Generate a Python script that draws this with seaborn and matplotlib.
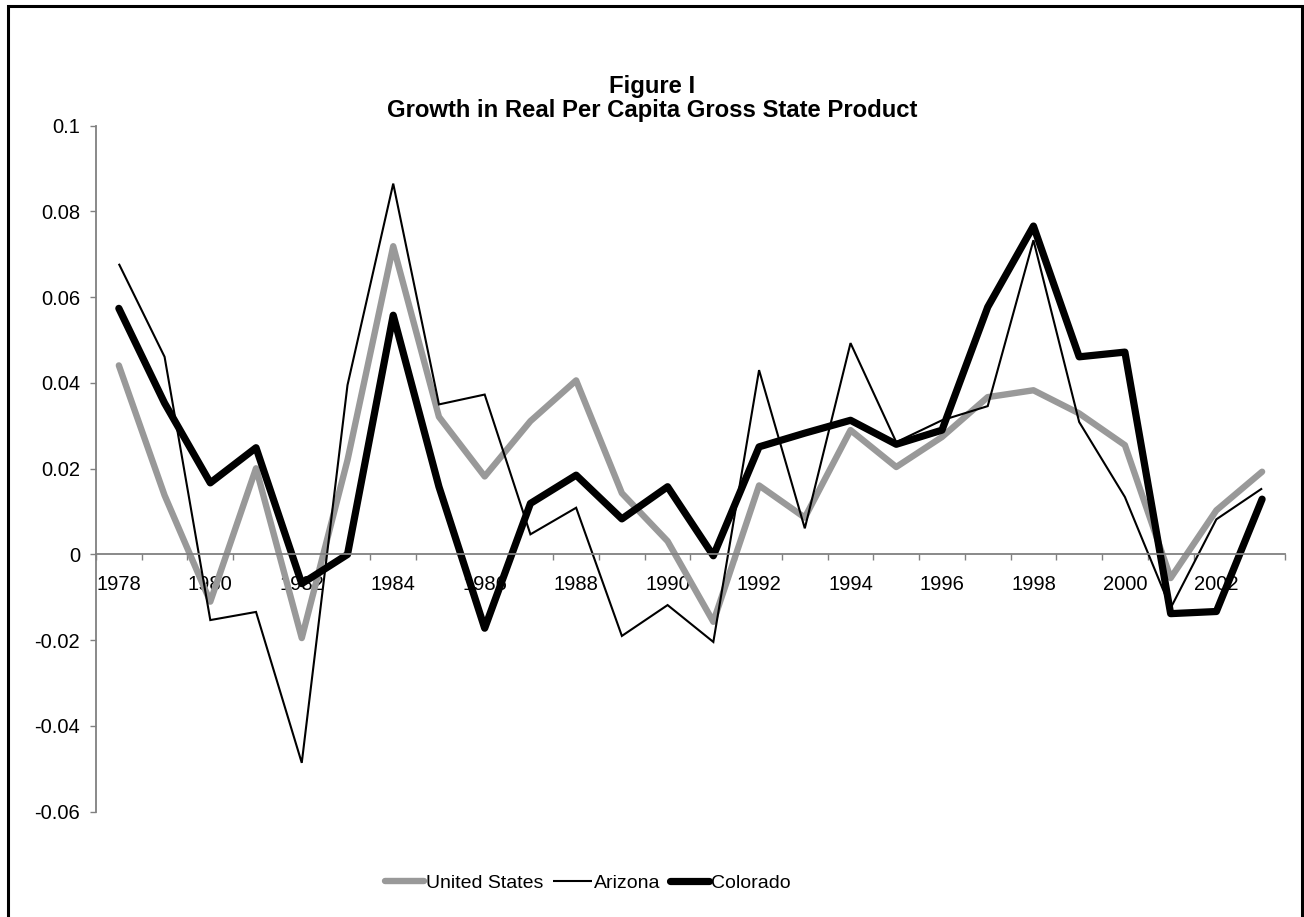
import numpy as np
import pandas as pd
import matplotlib
matplotlib.use("Agg")
import matplotlib.pyplot as plt
from matplotlib.patches import Rectangle
import seaborn as sns

# --- data ---
years = list(range(1978, 2004))
us = [0.0441, 0.0138, -0.011, 0.0201, -0.0195, 0.022, 0.0719, 0.0321, 0.0182, 0.0311,
      0.0406, 0.0143, 0.0031, -0.0157, 0.0161, 0.0086, 0.029, 0.0204, 0.0274, 0.0367,
      0.0383, 0.0329, 0.0255, -0.0055, 0.0103, 0.0193]
arizona = [0.0678, 0.0461, -0.0153, -0.0134, -0.0486, 0.0395, 0.0865, 0.035, 0.0373, 0.0047,
           0.0109, -0.019, -0.0118, -0.0204, 0.043, 0.0061, 0.0493, 0.0262, 0.0313, 0.0346,
           0.0733, 0.0309, 0.0134, -0.0125, 0.0082, 0.0154]
colorado = [0.0574, 0.0353, 0.0167, 0.0249, -0.0068, 0.0, 0.0558, 0.0158, -0.0172, 0.0119,
            0.0185, 0.0083, 0.0158, -0.0003, 0.0251, 0.0283, 0.0313, 0.0257, 0.029, 0.0577,
            0.0766, 0.0461, 0.0472, -0.0138, -0.0133, 0.0129]
series_names = ["United States", "Arizona", "Colorado"]

df = pd.DataFrame({"pos": np.arange(len(years)), "United States": us,
                   "Arizona": arizona, "Colorado": colorado})

sns.set_style("white")
plt.rcParams['font.family'] = ['Liberation Sans', 'DejaVu Sans']
plt.rcParams['text.color'] = 'black'

fig = plt.figure(figsize=(13.04, 9.17), dpi=100)
ax = fig.add_axes([0.0736, 0.1148, 0.9118, 0.7481])

# colour, width, join style
styles = {"United States": ("#999999", 4.6, "round"),
          "Arizona": ("black", 1.5, "miter"),
          "Colorado": ("black", 5.2, "round")}
for name in series_names:
    c, lw, js = styles[name]
    sns.lineplot(data=df, x="pos", y=name, ax=ax, color=c, linewidth=lw,
                 label=name, legend=False, solid_joinstyle=js,
                 solid_capstyle="round" if js == "round" else "butt")

ax.set_ylim(-0.06, 0.1)
ax.set_xlim(-0.5, len(years) - 0.5)
ax.set_yticks([-0.06, -0.04, -0.02, 0, 0.02, 0.04, 0.06, 0.08, 0.1])
ax.set_yticklabels(["-0.06", "-0.04", "-0.02", "0", "0.02", "0.04", "0.06", "0.08", "0.1"])
ax.set_xticks(np.arange(len(years) + 1) - 0.5)
ax.set_xticklabels([])
ax.set_xticks(np.arange(0, len(years), 2), minor=True)
ax.set_xticklabels([str(y) for y in years[::2]], minor=True)
ax.set_xlabel("")
ax.set_ylabel("")

for s in ["top", "right"]:
    ax.spines[s].set_visible(False)
ax.spines["bottom"].set_position(("data", 0))
for s in ["left", "bottom"]:
    ax.spines[s].set_color("#808080")
    ax.spines[s].set_linewidth(1.3)

ax.tick_params(axis="y", which="major", direction="out", length=4.5, width=1.0,
               color="#808080", labelcolor="black", left=True, pad=7, labelsize=14.5)
ax.tick_params(axis="x", which="major", direction="out", length=4.0, width=1.0,
               color="#808080", bottom=True)
ax.tick_params(axis="x", which="minor", length=0, pad=15, labelsize=14.5,
               labelcolor="black")

fig.text(0.5, 1 - 87 / 917, "Figure I", ha="center", va="center",
         fontsize=17.2, fontweight="bold")
fig.text(0.5, 1 - 110 / 917, "Growth in Real Per Capita Gross State Product",
         ha="center", va="center", fontsize=17.2, fontweight="bold")

handles, labels = ax.get_legend_handles_labels()
leg = fig.legend(handles, labels, loc="center", bbox_to_anchor=(588 / 1304, 34 / 917),
                 ncol=3, frameon=False, fontsize=14, handlelength=2.0,
                 handletextpad=0.1, columnspacing=0.5)
for t in leg.get_texts():
    t.set_color("black")

fig.patches.append(Rectangle((8 / 1304, -0.05), 1294 / 1304, 1.05 - 6 / 917,
                             transform=fig.transFigure, fill=False,
                             edgecolor="black", linewidth=2.2))

fig.savefig("out.png", dpi=100)
